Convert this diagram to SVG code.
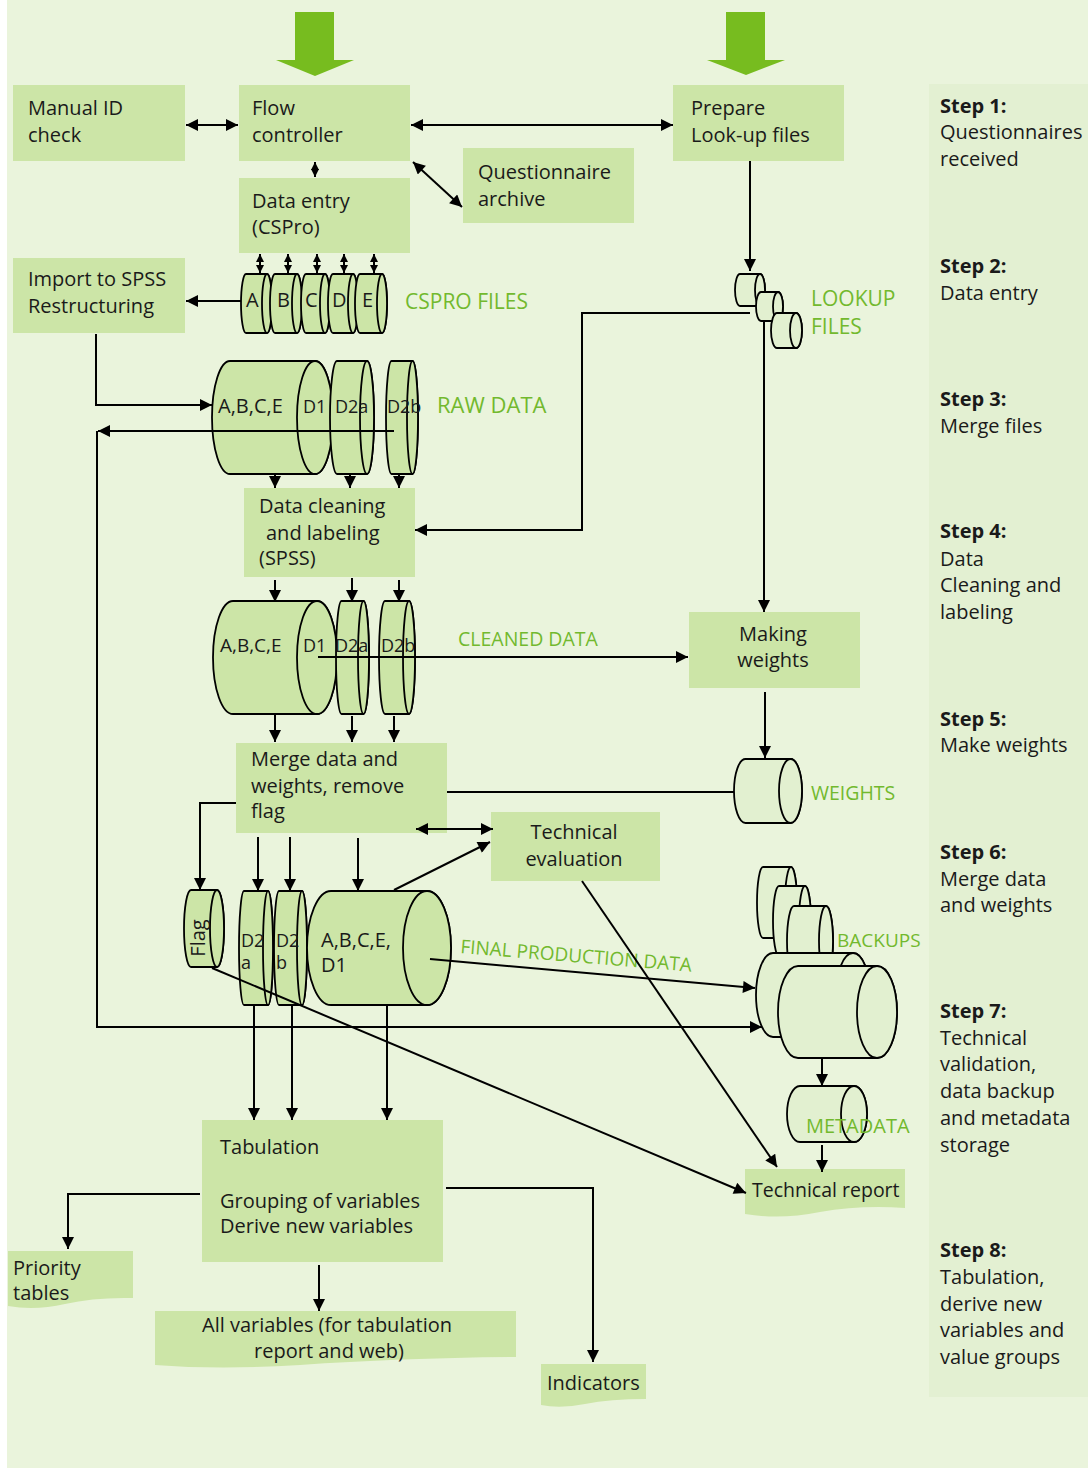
<svg xmlns="http://www.w3.org/2000/svg" width="1088" height="1468" viewBox="0 0 1088 1468">
<defs>
<marker id="ah" viewBox="0 0 10 10" refX="10" refY="5" markerUnits="userSpaceOnUse" markerWidth="13" markerHeight="12" orient="auto-start-reverse"><path d="M0,0 L10,5 L0,10 Z" fill="#000"/></marker>
<marker id="sm" viewBox="0 0 10 10" refX="10" refY="5" markerUnits="userSpaceOnUse" markerWidth="8" markerHeight="9" orient="auto-start-reverse"><path d="M0,0 L10,5 L0,10 Z" fill="#000"/></marker>
<style>
text{font-family:"Open Sans","Noto Sans","DejaVu Sans",sans-serif;font-size:20px;fill:#1a1a1a}
.g{fill:#72b92e}
.b{font-weight:bold}
.sm{font-size:18px}
.box{fill:#cce5a7}
.cyl{fill:#cce5a7;stroke:#000;stroke-width:1.8}
.cyl2{fill:#e2f0d0;stroke:#000;stroke-width:1.8}
.c{fill:none;stroke:#000;stroke-width:2}
.a{marker-end:url(#ah)}
.d{marker-start:url(#ah);marker-end:url(#ah)}
.ds{marker-start:url(#sm);marker-end:url(#sm)}
.mid{text-anchor:middle}
</style>
</defs>
<rect x="0" y="0" width="1088" height="1468" fill="#ffffff"/>
<rect x="7" y="0" width="1081" height="1468" fill="#eaf4dc"/>
<rect x="929" y="84" width="159" height="1313" fill="#e3f0d2"/>

<g id="input-arrows">
<polygon points="295,12 334,12 334,60 354,60 315,76 276,60 295,60" fill="#77bc1f"/>
<polygon points="726,12 765,12 765,60 785,60 746,75 707,60 726,60" fill="#77bc1f"/>
</g>

<g id="steps">
<text x="940" y="113" class="b">Step 1:</text>
<text x="940" y="139">Questionnaires</text>
<text x="940" y="166">received</text>
<text x="940" y="273" class="b">Step 2:</text>
<text x="940" y="300">Data entry</text>
<text x="940" y="406" class="b">Step 3:</text>
<text x="940" y="433">Merge files</text>
<text x="940" y="538" class="b">Step 4:</text>
<text x="940" y="566">Data</text>
<text x="940" y="592">Cleaning and</text>
<text x="940" y="619">labeling</text>
<text x="940" y="726" class="b">Step 5:</text>
<text x="940" y="752">Make weights</text>
<text x="940" y="859" class="b">Step 6:</text>
<text x="940" y="886">Merge data</text>
<text x="940" y="912">and weights</text>
<text x="940" y="1018" class="b">Step 7:</text>
<text x="940" y="1045">Technical</text>
<text x="940" y="1071">validation,</text>
<text x="940" y="1098">data backup</text>
<text x="940" y="1125">and metadata</text>
<text x="940" y="1152">storage</text>
<text x="940" y="1257" class="b">Step 8:</text>
<text x="940" y="1284">Tabulation,</text>
<text x="940" y="1311">derive new</text>
<text x="940" y="1337">variables and</text>
<text x="940" y="1364">value groups</text>
</g>

<g id="manual-id-check"><rect class="box" x="13" y="85" width="172" height="76"/><text x="28" y="115">Manual ID</text><text x="28" y="142">check</text></g>
<g id="flow-controller"><rect class="box" x="239" y="85" width="171" height="76"/><text x="252" y="115">Flow</text><text x="252" y="142">controller</text></g>
<g id="prepare-lookup"><rect class="box" x="673" y="85" width="171" height="76"/><text x="691" y="115">Prepare</text><text x="691" y="142">Look-up files</text></g>
<g id="questionnaire-archive"><rect class="box" x="463" y="148" width="171" height="75"/><text x="478" y="179">Questionnaire</text><text x="478" y="206">archive</text></g>
<g id="data-entry"><rect class="box" x="239" y="178" width="171" height="75"/><text x="252" y="208">Data entry</text><text x="252" y="234">(CSPro)</text></g>
<g id="import-spss"><rect class="box" x="13" y="258" width="172" height="75"/><text x="28" y="286">Import to SPSS</text><text x="28" y="313">Restructuring</text></g>

<g id="cspro-files">
<path class="cyl" d="M246,274 H267 A5,29.5 0 0 1 267,333 H246 A5,29.5 0 0 1 246,274 Z"/><ellipse class="cyl" cx="267" cy="303.5" rx="5" ry="29.5"/>
<path class="cyl" d="M275,274 H297 A5,29.5 0 0 1 297,333 H275 A5,29.5 0 0 1 275,274 Z"/><ellipse class="cyl" cx="297" cy="303.5" rx="5" ry="29.5"/>
<path class="cyl" d="M306,274 H325 A5,29.5 0 0 1 325,333 H306 A5,29.5 0 0 1 306,274 Z"/><ellipse class="cyl" cx="325" cy="303.5" rx="5" ry="29.5"/>
<path class="cyl" d="M333,274 H353 A5,29.5 0 0 1 353,333 H333 A5,29.5 0 0 1 333,274 Z"/><ellipse class="cyl" cx="353" cy="303.5" rx="5" ry="29.5"/>
<path class="cyl" d="M360,274 H382 A5,29.5 0 0 1 382,333 H360 A5,29.5 0 0 1 360,274 Z"/><ellipse class="cyl" cx="382" cy="303.5" rx="5" ry="29.5"/>
<text x="246" y="307">A</text><text x="277" y="307">B</text><text x="305" y="307">C</text><text x="332" y="307">D</text><text x="362" y="307">E</text>
<text x="405" y="309" class="g" style="font-size:21px">CSPRO FILES</text>
</g>

<g id="lookup-files">
<path class="cyl2" d="M740,274 H760 A5,16 0 0 1 760,306 H740 A5,16 0 0 1 740,274 Z"/><ellipse class="cyl2" cx="760" cy="290" rx="5" ry="16"/>
<path class="cyl2" d="M761,292 H778 A5,14.5 0 0 1 778,321 H761 A5,14.5 0 0 1 761,292 Z"/><ellipse class="cyl2" cx="778" cy="306.5" rx="5" ry="14.5"/>
<path class="cyl2" d="M777,313 H796 A6,17.5 0 0 1 796,348 H777 A6,17.5 0 0 1 777,313 Z"/><ellipse class="cyl2" cx="796" cy="330.5" rx="6" ry="17.5"/>
<text x="811" y="306" class="g" style="font-size:21px">LOOKUP</text>
<text x="811" y="334" class="g" style="font-size:21px">FILES</text>
</g>

<g id="raw-data">
<path class="cyl" d="M230,361 H315 A18,56.5 0 0 1 315,474 H230 A18,56.5 0 0 1 230,361 Z"/><ellipse class="cyl" cx="315" cy="417.5" rx="18" ry="56.5"/>
<path class="cyl" d="M337,361 H367 A7,56.5 0 0 1 367,474 H337 A7,56.5 0 0 1 337,361 Z"/><ellipse class="cyl" cx="367" cy="417.5" rx="7" ry="56.5"/>
<path class="cyl" d="M391.5,361 H412.5 A5.5,56.5 0 0 1 412.5,474 H391.5 A5.5,56.5 0 0 1 391.5,361 Z"/><ellipse class="cyl" cx="412.5" cy="417.5" rx="5.5" ry="56.5"/>
<text x="218" y="413">A,B,C,E</text><text x="303" y="413" class="sm">D1</text><text x="335" y="413" class="sm">D2a</text><text x="387" y="413" class="sm">D2b</text>
<text x="437" y="413" class="g" style="font-size:22px">RAW DATA</text>
</g>

<g id="data-cleaning"><rect class="box" x="244" y="488" width="171" height="89"/><text x="259" y="513">Data cleaning</text><text x="266" y="540">and labeling</text><text x="259" y="565">(SPSS)</text></g>

<g id="cleaned-data">
<path class="cyl" d="M233,601 H317 A20,56.5 0 0 1 317,714 H233 A20,56.5 0 0 1 233,601 Z"/><ellipse class="cyl" cx="317" cy="657.5" rx="20" ry="56.5"/>
<path class="cyl" d="M341.5,601 H363.5 A5.5,56.5 0 0 1 363.5,714 H341.5 A5.5,56.5 0 0 1 341.5,601 Z"/><ellipse class="cyl" cx="363.5" cy="657.5" rx="5.5" ry="56.5"/>
<path class="cyl" d="M385,601 H409 A6,56.5 0 0 1 409,714 H385 A6,56.5 0 0 1 385,601 Z"/><ellipse class="cyl" cx="409" cy="657.5" rx="6" ry="56.5"/>
<text x="220" y="652" style="font-size:19px">A,B,C,E</text><text x="303" y="652" class="sm">D1</text><text x="335" y="652" class="sm">D2a</text><text x="381" y="652" class="sm">D2b</text>
<text x="458" y="646" class="g" style="font-size:19.5px">CLEANED DATA</text>
</g>

<g id="making-weights"><rect class="box" x="689" y="612" width="171" height="76"/><text x="773" y="641" class="mid">Making</text><text x="773" y="667" class="mid">weights</text></g>

<g id="weights">
<path class="cyl2" d="M745.5,759 H790.5 A11.5,32 0 0 1 790.5,823 H745.5 A11.5,32 0 0 1 745.5,759 Z"/><ellipse class="cyl2" cx="790.5" cy="791" rx="11.5" ry="32"/>
<text x="811" y="800" class="g" style="font-size:19.5px">WEIGHTS</text>
</g>

<g id="merge-data"><rect class="box" x="236" y="743" width="211" height="90"/><text x="251" y="766">Merge data and</text><text x="251" y="793">weights, remove</text><text x="251" y="818">flag</text></g>

<g id="technical-evaluation"><rect class="box" x="491" y="812" width="169" height="69"/><text x="574" y="839" class="mid">Technical</text><text x="574" y="866" class="mid">evaluation</text></g>

<g id="final-production-data">
<path class="cyl" d="M191,890 H217 A7,38.5 0 0 1 217,967 H191 A7,38.5 0 0 1 191,890 Z"/><ellipse class="cyl" cx="217" cy="928.5" rx="7" ry="38.5"/>
<text transform="translate(205,938) rotate(-90)" class="mid">Flag</text>
<path class="cyl" d="M244,891 H268 A5,57 0 0 1 268,1005 H244 A5,57 0 0 1 244,891 Z"/><ellipse class="cyl" cx="268" cy="948" rx="5" ry="57"/>
<path class="cyl" d="M279,891 H302 A5,57 0 0 1 302,1005 H279 A5,57 0 0 1 279,891 Z"/><ellipse class="cyl" cx="302" cy="948" rx="5" ry="57"/>
<path class="cyl" d="M331,891 H427 A24,57 0 0 1 427,1005 H331 A24,57 0 0 1 331,891 Z"/><ellipse class="cyl" cx="427" cy="948" rx="24" ry="57"/>
<text x="241" y="947" class="sm">D2</text><text x="241" y="969" class="sm">a</text>
<text x="276" y="947" class="sm">D2</text><text x="276" y="969" class="sm">b</text>
<text x="321" y="947">A,B,C,E,</text><text x="321" y="972">D1</text>
<text x="460" y="953" class="g" style="font-size:19px" transform="rotate(4.6,460,953)">FINAL PRODUCTION DATA</text>
</g>

<g id="backups">
<path class="cyl2" d="M763,867 H791 A6,35.5 0 0 1 791,938 H763 A6,35.5 0 0 1 763,867 Z"/><ellipse class="cyl2" cx="791" cy="902.5" rx="6" ry="35.5"/>
<path class="cyl2" d="M779,886 H805 A6,35 0 0 1 805,956 H779 A6,35 0 0 1 779,886 Z"/><ellipse class="cyl2" cx="805" cy="921" rx="6" ry="35"/>
<path class="cyl2" d="M794,906 H826 A7,35 0 0 1 826,976 H794 A7,35 0 0 1 794,906 Z"/><ellipse class="cyl2" cx="826" cy="941" rx="7" ry="35"/>
<path class="cyl2" d="M773,953 H853 A17,42 0 0 1 853,1037 H773 A17,42 0 0 1 773,953 Z"/><ellipse class="cyl2" cx="853" cy="995" rx="17" ry="42"/>
<path class="cyl2" d="M798,966 H877 A20,46 0 0 1 877,1058 H798 A20,46 0 0 1 798,966 Z"/><ellipse class="cyl2" cx="877" cy="1012" rx="20" ry="46"/>
<text x="837" y="947" class="g" style="font-size:19px">BACKUPS</text>
</g>

<g id="metadata">
<path class="cyl2" d="M800,1086 H854 A13,28 0 0 1 854,1142 H800 A13,28 0 0 1 800,1086 Z"/><ellipse class="cyl2" cx="854" cy="1114" rx="13" ry="28"/>
<text x="806" y="1133" class="g">METADATA</text>
</g>

<g id="technical-report"><path class="box" d="M745,1169 H905 V1208 Q860,1205 820,1212 Q780,1220 745,1214 Z"/><text x="752" y="1197" style="font-size:19.5px">Technical report</text></g>

<g id="tabulation"><rect class="box" x="202" y="1120" width="241" height="142"/><text x="220" y="1154">Tabulation</text><text x="220" y="1208">Grouping of variables</text><text x="220" y="1233">Derive new variables</text></g>

<g id="priority-tables"><path class="box" d="M8,1251 H133 V1298 Q95,1297 65,1304 Q35,1311 8,1306 Z"/><text x="13" y="1275">Priority</text><text x="13" y="1300">tables</text></g>

<g id="all-variables"><path class="box" d="M155,1311 H516 V1357 Q400,1358 300,1365 Q220,1370 155,1365 Z"/><text x="327" y="1332" class="mid">All variables (for tabulation</text><text x="329" y="1358" class="mid">report and web)</text></g>

<g id="indicators"><path class="box" d="M541,1364 H646 V1399 Q610,1399 585,1404 Q560,1409 541,1405 Z"/><text x="547" y="1390">Indicators</text></g>

<g id="connectors">
<line class="c d" x1="186" y1="125" x2="238" y2="125"/>
<line class="c d" x1="411" y1="125" x2="673" y2="125"/>
<line class="c ds" x1="315" y1="162" x2="315" y2="177"/>
<line class="c d" x1="413" y1="162" x2="462" y2="207"/>
<line class="c ds" x1="260" y1="254" x2="260" y2="273"/>
<line class="c ds" x1="288" y1="254" x2="288" y2="273"/>
<line class="c ds" x1="317" y1="254" x2="317" y2="273"/>
<line class="c ds" x1="344" y1="254" x2="344" y2="273"/>
<line class="c ds" x1="374" y1="254" x2="374" y2="273"/>
<line class="c a" x1="241" y1="301" x2="186" y2="301"/>
<polyline class="c a" points="96,334 96,405 212,405"/>
<line class="c a" x1="394" y1="431" x2="98" y2="431"/>
<polyline class="c a" points="97,431 97,1027 762,1027"/>
<line class="c a" x1="275" y1="474" x2="275" y2="488"/>
<line class="c a" x1="350" y1="474" x2="350" y2="488"/>
<line class="c a" x1="399" y1="474" x2="399" y2="488"/>
<line class="c a" x1="750" y1="161" x2="750" y2="271"/>
<polyline class="c a" points="750,313 582,313 582,530 415,530"/>
<line class="c a" x1="764" y1="321" x2="764" y2="612"/>
<line class="c a" x1="275" y1="580" x2="275" y2="602"/>
<line class="c a" x1="352" y1="578" x2="352" y2="602"/>
<line class="c a" x1="399" y1="580" x2="399" y2="602"/>
<line class="c a" x1="318" y1="657" x2="688" y2="657"/>
<line class="c a" x1="275" y1="714" x2="275" y2="742"/>
<line class="c a" x1="352" y1="716" x2="352" y2="742"/>
<line class="c a" x1="394" y1="716" x2="394" y2="742"/>
<line class="c a" x1="765" y1="692" x2="765" y2="758"/>
<line class="c" x1="447" y1="792" x2="734" y2="792"/>
<polyline class="c a" points="236,803 200,803 200,890"/>
<line class="c a" x1="258" y1="837" x2="258" y2="891"/>
<line class="c a" x1="290" y1="837" x2="290" y2="891"/>
<line class="c a" x1="358" y1="838" x2="358" y2="891"/>
<line class="c d" x1="416" y1="829" x2="493" y2="829"/>
<line class="c a" x1="394" y1="890" x2="490" y2="842"/>
<line class="c a" x1="582" y1="881" x2="777" y2="1167"/>
<line class="c a" x1="430" y1="959" x2="755" y2="988"/>
<line class="c a" x1="212" y1="968" x2="746" y2="1193"/>
<line class="c a" x1="254" y1="1005" x2="254" y2="1120"/>
<line class="c a" x1="292" y1="1005" x2="292" y2="1120"/>
<line class="c a" x1="387" y1="1005" x2="387" y2="1120"/>
<line class="c a" x1="822" y1="1058" x2="822" y2="1086"/>
<line class="c a" x1="822" y1="1145" x2="822" y2="1172"/>
<polyline class="c a" points="200,1194 68,1194 68,1249"/>
<line class="c a" x1="319" y1="1265" x2="319" y2="1311"/>
<polyline class="c a" points="446,1188 593,1188 593,1362"/>
</g>
</svg>
